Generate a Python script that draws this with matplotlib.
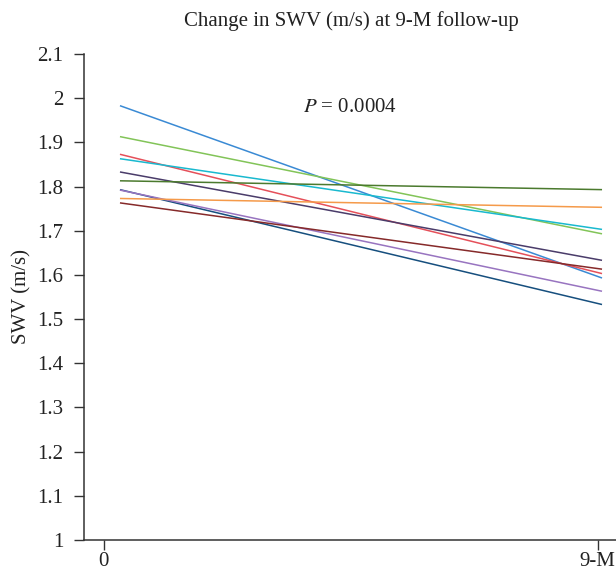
import matplotlib
matplotlib.use("Agg")
import matplotlib.pyplot as plt

# Data
timepoints = [0, 1]
tick_positions = [-0.034, 0.991]
tick_labels = ["0", "9-M"]
baseline = [1.983, 1.913, 1.873, 1.863, 1.833, 1.813, 1.793, 1.792, 1.773, 1.763]
followup = [1.593, 1.693, 1.603, 1.703, 1.633, 1.793, 1.533, 1.563, 1.753, 1.613]
colors = ["#3a8ad4", "#82c458", "#e5505a", "#19b9cf", "#4a3c6a",
          "#4b7a2e", "#164f7e", "#9874c0", "#f59a4a", "#862a2a"]
yticks = [1, 1.1, 1.2, 1.3, 1.4, 1.5, 1.6, 1.7, 1.8, 1.9, 2, 2.1]

plt.rcParams['font.family'] = ['Liberation Serif', 'DejaVu Serif']
plt.rcParams['mathtext.fontset'] = 'stix'

FS = 15
fig = plt.figure(figsize=(6.16, 5.70), dpi=100)
ax = fig.add_axes([84.3 / 616, 1 - 540 / 570, 1 - 84.3 / 616, (540 - 54) / 570])

for b, f, c in zip(baseline, followup, colors):
    ax.plot(timepoints, [b, f], color=c, lw=1.1, solid_capstyle='butt')

ax.set_xlim(-0.074, 1.029)
ax.set_ylim(1, 2.1)
ax.set_yticks(yticks)
ax.set_yticklabels([f"{v:g}" for v in yticks], fontsize=FS, color="#222222")
ax.set_xticks(tick_positions)
ax.set_xticklabels(tick_labels, fontsize=FS, color="#222222")
ax.tick_params(axis='y', direction='out', length=7, width=1, color="#333333", pad=8)
ax.tick_params(axis='x', direction='out', length=7, width=1, color="#333333", pad=2)

for s in ['top', 'right']:
    ax.spines[s].set_visible(False)
for s in ['left', 'bottom']:
    ax.spines[s].set_linewidth(1.1)
    ax.spines[s].set_color("#333333")

ax.set_ylabel("SWV (m/s)", fontsize=FS, color="#222222", labelpad=4)
fig.text(351 / 616, 1 - 21 / 570, "Change in SWV (m/s) at 9-M follow-up",
         ha='center', va='center', fontsize=FS, color="#222222")
ax.text(0.477, 1.978, r"$P$ = 0.0004", ha='center', va='center',
        fontsize=FS, color="#222222")

fig.savefig("out.png", dpi=100)
